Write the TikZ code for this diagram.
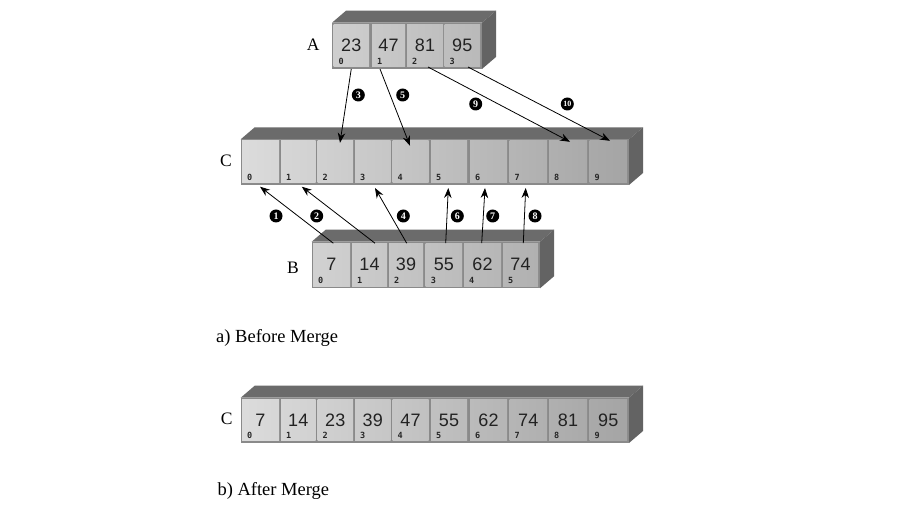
\documentclass[tikz,border=0pt]{standalone}
\usepackage{fontspec}
\setmainfont{Liberation Serif}
\newfontfamily\numfont{Liberation Sans}
\newfontfamily\idxfont{DejaVu Sans Mono}
\usetikzlibrary{arrows.meta,shapes.geometric,fit}
\definecolor{topgray}{HTML}{6B6B6B}
\definecolor{sidegray}{HTML}{636363}
\definecolor{frontgray}{HTML}{8A8A8A}
\definecolor{cellL}{HTML}{DCDCDC}
\definecolor{cellR}{HTML}{A4A4A4}
\definecolor{numcol}{HTML}{222222}
\tikzset{
  cellbox/.style={inner sep=0pt, outer sep=0pt, draw=none},
  cell/.style={inner sep=0pt, text=numcol, font=\numfont\fontsize{18}{18}\selectfont},
  idx/.style={inner sep=0pt, anchor=base west, text=black!85,
    font=\idxfont\bfseries\fontsize{8.5}{8.5}\selectfont},
  lab/.style={inner sep=0pt, font=\fontsize{17.5}{18}\selectfont},
  captext/.style={inner sep=0pt, anchor=base west, font=\fontsize{18.5}{20}\selectfont},
  circnum/.style={circle, fill=black, text=white, inner sep=0pt, minimum size=13pt,
    font=\bfseries\fontsize{10}{10}\selectfont},
  ovalnum/.style={circle, fill=black, text=white, inner sep=0pt, minimum size=13pt,
    font=\bfseries\fontsize{8}{8}\selectfont},
  arr/.style={line width=0.8pt, -{Stealth[length=10pt,width=7.5pt]}},
}
% box: #1 x0, #2 ybot, #3 width, #4 height
\newcommand\mkbox[4]{%
  \fill[topgray] (#1,#2) ++(0,#4) -- ++(14,12) -- ++(#3,0) -- ++(-14,-12) -- cycle;
  \fill[sidegray] (#1,#2) ++(#3,0) -- ++(0,#4) -- ++(14,12) -- ++(0,-#4) -- cycle;
  \fill[frontgray] (#1,#2) rectangle ++(#3,#4);
}
% cell: #1 name, #2 xl, #3 xr, #4 ybot, #5 ytop, #6 left %, #7 right %, #8 value, #9 index
\newcommand\mkcell[9]{%
  \shade[left color=cellL!#6!cellR, right color=cellL!#7!cellR] (#2,#4) rectangle (#3,#5);
  \node[cellbox, fit={(#2,#4) (#3,#5)}] (#1) {};
  \node[cell] at (#1.center) {#8};
  \node[idx] at ([xshift=5pt,yshift=2.3pt]#1.south west) {#9};
}
\begin{document}
\begin{tikzpicture}[x=1pt,y=1pt]
\useasboundingbox[fill=white] (0,0) rectangle (900,517);

% Array A
\mkbox{332}{448}{150}{46.3}
\mkcell{A0}{333.5}{369}{450}{492.8}{76}{67}{23}{0}
\mkcell{A1}{372}{405}{450}{492.8}{66}{58}{47}{1}
\mkcell{A2}{407}{443}{450}{492.8}{57}{48}{81}{2}
\mkcell{A3}{444.5}{480}{450}{492.8}{47}{38}{95}{3}

% Array C (before)
\mkbox{240.7}{332}{388.3}{45.7}
\mkcell{C0}{242}{279}{334}{376.2}{99}{90}{}{0}
\mkcell{C1}{281}{315.5}{334}{376.2}{89}{81}{}{1}
\mkcell{C2}{317.5}{353}{334}{376.2}{80}{71}{}{2}
\mkcell{C3}{355}{390.5}{334}{376.2}{70}{61}{}{3}
\mkcell{C4}{392.5}{428.5}{334}{376.2}{61}{52}{}{4}
\mkcell{C5}{431}{467}{334}{376.2}{51}{42}{}{5}
\mkcell{C6}{470}{507}{334}{376.2}{41}{31}{}{6}
\mkcell{C7}{509.5}{547}{334}{376.2}{31}{21}{}{7}
\mkcell{C8}{549}{587}{334}{376.2}{21}{11}{}{8}
\mkcell{C9}{589.5}{627}{334}{376.2}{10}{1}{}{9}

% Array B
\mkbox{311.7}{228.7}{228.3}{46.6}
\mkcell{B0}{313}{350}{230.7}{273.8}{81}{72}{7}{0}
\mkcell{B1}{352}{387}{230.7}{273.8}{71}{62}{14}{1}
\mkcell{B2}{389}{423}{230.7}{273.8}{62}{53}{39}{2}
\mkcell{B3}{425.7}{462}{230.7}{273.8}{52}{43}{55}{3}
\mkcell{B4}{464}{501}{230.7}{273.8}{42}{33}{62}{4}
\mkcell{B5}{503}{538}{230.7}{273.8}{32}{23}{74}{5}

% Array C (after)
\mkbox{240.7}{74}{388.3}{45.3}
\mkcell{D0}{242}{279}{76}{117.8}{99}{90}{7}{0}
\mkcell{D1}{281}{315.5}{76}{117.8}{89}{81}{14}{1}
\mkcell{D2}{317.5}{353}{76}{117.8}{80}{71}{23}{2}
\mkcell{D3}{355}{390.5}{76}{117.8}{70}{61}{39}{3}
\mkcell{D4}{392.5}{428.5}{76}{117.8}{61}{52}{47}{4}
\mkcell{D5}{431}{467}{76}{117.8}{51}{42}{55}{5}
\mkcell{D6}{470}{507}{76}{117.8}{41}{31}{62}{6}
\mkcell{D7}{509.5}{547}{76}{117.8}{31}{21}{74}{7}
\mkcell{D8}{549}{587}{76}{117.8}{21}{11}{81}{8}
\mkcell{D9}{589.5}{627}{76}{117.8}{10}{1}{95}{9}

\node[lab] (labA) at (313.3,472) {A};
\node[lab] (labC) at (226,356.5) {C};
\node[lab] (labB) at (293,249.5) {B};
\node[lab] (labD) at (226.7,98.7) {C};

\node[captext] (capa) at (216,174.3) {a) Before Merge};
\node[captext] (capb) at (217.3,21) {b) After Merge};

% arrows from A
\draw[arr] ([yshift=-2pt]A0.south) -- ([xshift=4.75pt,yshift=-2pt]C2.north);
\draw[arr] ([xshift=-8.5pt,yshift=-2pt]A1.south) -- ([xshift=-0.5pt,yshift=-5pt]C4.north);
\draw[arr] ([xshift=3pt]A2.south) -- ([xshift=2pt,yshift=-1pt]C8.north);
\draw[arr] ([xshift=5.75pt]A3.south) -- ([xshift=1.75pt]C9.north);
% arrows from B
\draw[arr] ([xshift=1.8pt]B0.north) -- ([xshift=-0.5pt,yshift=-3.7pt]C0.south);
\draw[arr] ([xshift=5.5pt]B1.north) -- ([xshift=3.5pt,yshift=-3.7pt]C1.south);
\draw[arr] ([xshift=0.7pt]B2.north) -- ([xshift=2.25pt,yshift=-5pt]C3.south);
\draw[arr] ([xshift=1.85pt]B3.north) -- ([xshift=-0.7pt,yshift=-5pt]C5.south);
\draw[arr] ([xshift=-0.8pt]B4.north) -- ([xshift=-3.5pt,yshift=-5pt]C6.south);
\draw[arr] ([xshift=2.8pt]B5.north) -- ([xshift=-2.55pt,yshift=-5pt]C7.south);

% step numbers
\node[circnum] (n3) at (358.3,422) {3};
\node[circnum] (n5) at (402.7,422) {5};
\node[circnum] (n9) at (475.7,413) {9};
\node[ovalnum] (n10) at (567.3,413) {10};
\node[circnum] (n1) at (276,301) {1};
\node[circnum] (n2) at (316.7,301) {2};
\node[circnum] (n4) at (403.3,301) {4};
\node[circnum] (n6) at (457.3,301) {6};
\node[circnum] (n7) at (492.7,301) {7};
\node[circnum] (n8) at (535,301) {8};
\end{tikzpicture}
\end{document}
